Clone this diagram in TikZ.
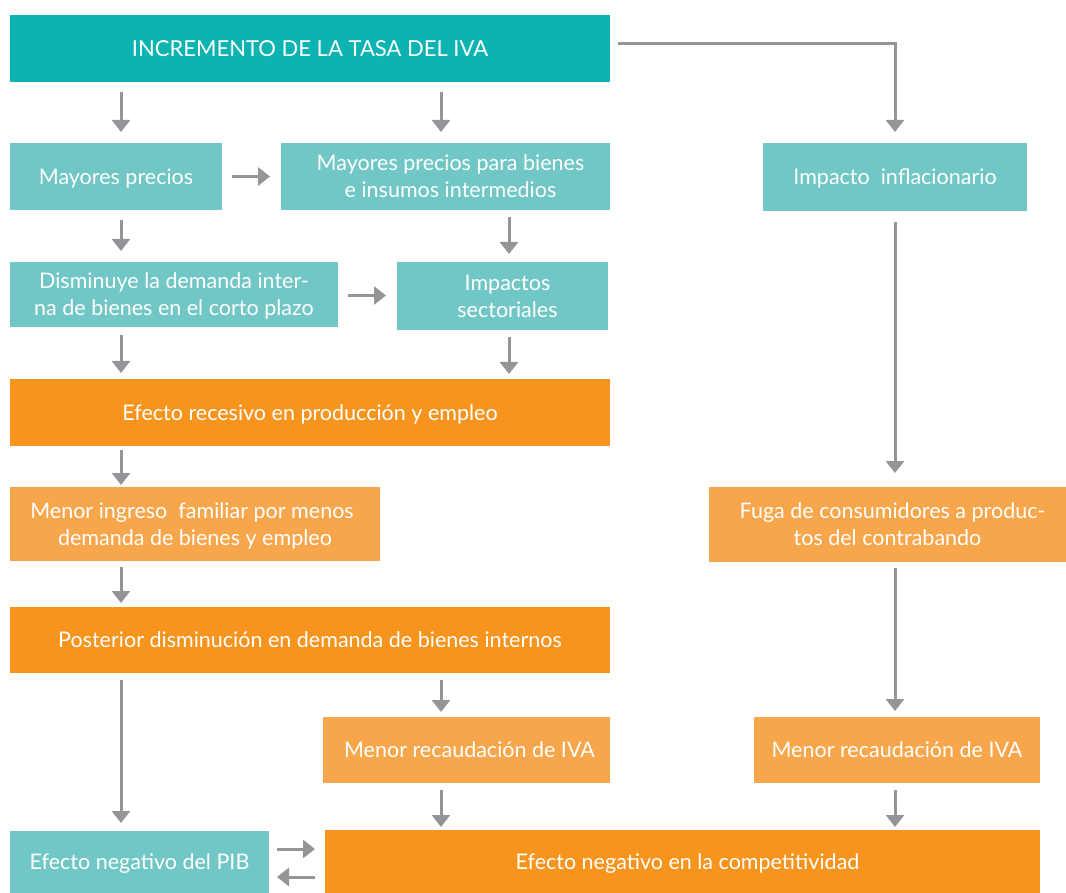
\documentclass[tikz,border=0pt]{standalone}
\usepackage{fontspec}
\setmainfont{Lato}
\usetikzlibrary{arrows.meta}
\definecolor{tealdark}{HTML}{0BB3B2}
\definecolor{teallight}{HTML}{71C6C6}
\definecolor{orangedark}{HTML}{F7941D}
\definecolor{orangelight}{HTML}{F8A64B}
\definecolor{arrgray}{HTML}{939598}
\tikzset{
  box/.style={inner sep=0pt, outer sep=0pt, text=white, align=center, text depth=0pt, font=\fontsize{21.5}{27}\selectfont},
  tbox/.style={box, fill=teallight},
  obox/.style={box, fill=orangedark},
  lobox/.style={box, fill=orangelight},
  arr/.style={draw=arrgray, line width=3pt, -{Triangle[width=18pt,length=12pt]}, shorten <=10pt, shorten >=11pt},
}
\begin{document}
\begin{tikzpicture}[x=1pt,y=1pt]
\useasboundingbox (0,0) rectangle (1066,-893);
% column coordinates
\coordinate (c1) at (121,0);
\coordinate (c2) at (441,0);
\coordinate (c3) at (509,0);
\coordinate (c4) at (895,0);
% nodes
\node[box, fill=tealdark, minimum width=600pt, minimum height=67pt, font=\fontsize{22}{27}\selectfont] (top) at (310,-48.5) {INCREMENTO DE LA TASA DEL IVA};
\node[tbox, minimum width=212pt, minimum height=67pt] (mp) at (116,-176.5) {Mayores precios};
\node[tbox, minimum width=329pt, minimum height=67pt] (mpb) at (445.5,-176.5) {\hspace*{10pt}Mayores precios para bienes\\\hspace*{10pt}e insumos intermedios};
\node[tbox, minimum width=264pt, minimum height=68pt] (inf) at (895,-177) {Impacto\ \ inflacionario};
\node[tbox, minimum width=328pt, minimum height=65pt] (dis) at (174,-294.5) {Disminuye la demanda inter-\\na de bienes en el corto plazo};
\node[tbox, minimum width=211pt, minimum height=68pt] (imp) at (502.5,-296) {\hspace*{10pt}Impactos\\\hspace*{10pt}sectoriales};
\node[obox, minimum width=600pt, minimum height=67pt] (rec) at (310,-412.5) {Efecto recesivo en producción y empleo};
\node[lobox, minimum width=370pt, minimum height=74pt] (ing) at (195,-524) {Menor ingreso\ \ familiar por menos\hspace*{6pt}\\demanda de bienes y empleo};
\node[lobox, minimum width=357pt, minimum height=75pt] (fuga) at (887.5,-524.5) {\hspace*{10pt}Fuga de consumidores a produc-\\tos del contrabando};
\node[obox, minimum width=600pt, minimum height=66pt] (post) at (310,-640) {Posterior disminución en demanda de bienes internos};
\node[lobox, minimum width=287pt, minimum height=66pt] (mr1) at (466.5,-750) {\hspace*{6pt}Menor recaudación de IVA};
\node[lobox, minimum width=286pt, minimum height=66pt] (mr2) at (897,-750) {Menor recaudación de IVA};
\node[tbox, minimum width=259pt, minimum height=62pt] (pib) at (139.5,-862) {Efecto negativo del PIB};
\node[obox, minimum width=715pt, minimum height=63pt] (comp) at (682.5,-861.5) {\hspace*{10pt}Efecto negativo en la competitividad};
% connectors
\coordinate (tr) at (618,-44);
\draw[arr, shorten <=0pt] (tr) -- (tr -| c4) -- (inf.north -| c4);
\draw[arr] (top.south -| c1) -- (mp.north -| c1);
\draw[arr] (top.south -| c2) -- (mpb.north -| c2);
\draw[arr] (mp.east) -- (mpb.west);
\draw[arr] (mp.south -| c1) -- (dis.north -| c1);
\draw[arr, shorten <=7pt, shorten >=8pt] (mpb.south -| c3) -- (imp.north -| c3);
\draw[arr] ([yshift=-1pt]dis.east) -- ([yshift=-1pt]dis.east -| imp.west);
\draw[arr, shorten <=8pt, shorten >=6pt] (dis.south -| c1) -- (rec.north -| c1);
\draw[arr, shorten <=7pt, shorten >=5pt] (imp.south -| c3) -- (rec.north -| c3);
\draw[arr, shorten <=11pt, shorten >=14pt] (inf.south -| c4) -- (fuga.north -| c4);
\draw[arr, shorten <=4pt, shorten >=2pt] (rec.south -| c1) -- (ing.north -| c1);
\draw[arr, shorten <=6pt, shorten >=4pt] (ing.south -| c1) -- (post.north -| c1);
\draw[arr, shorten <=6pt, shorten >=6pt] (fuga.south -| c4) -- (mr2.north -| c4);
\draw[arr, shorten <=7pt, shorten >=5pt] (post.south -| c2) -- (mr1.north -| c2);
\draw[arr, shorten <=7pt, shorten >=8pt] (post.south -| c1) -- (pib.north -| c1);
\draw[arr, shorten <=7pt, shorten >=3pt] (mr1.south -| c2) -- (comp.north -| c2);
\draw[arr, shorten <=7pt, shorten >=3pt] (mr2.south -| c4) -- (comp.north -| c4);
\draw[arr, shorten <=8pt, shorten >=10pt] ([yshift=13pt]pib.east) -- ([yshift=13pt]pib.east -| comp.west);
\draw[arr, shorten <=10pt, shorten >=8pt] ([yshift=-15pt]comp.west |- pib.east) -- ([yshift=-15pt]pib.east);
\end{tikzpicture}
\end{document}
